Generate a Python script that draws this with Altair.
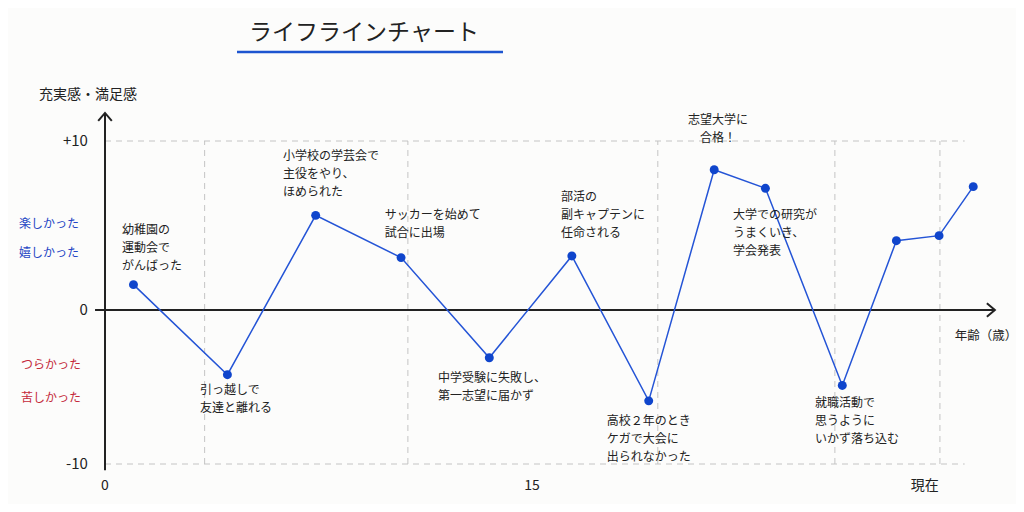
import altair as alt
import pandas as pd

FONT = "Noto Sans CJK JP"

# ---- life-line data (age, satisfaction score) ----
ages = [1.0, 4.3, 7.4, 10.4, 13.5, 16.4, 19.1, 21.4, 23.2, 25.9, 27.8, 29.3, 30.5]
scores = [1.5, -4.2, 5.6, 3.1, -3.1, 3.2, -5.9, 8.3, 7.2, -4.9, 4.1, 4.4, 7.3]

# ---- annotations (text, anchor age, anchor score) ----
ann_texts = [
    "幼稚園の\n運動会で\nがんばった",
    "小学校の学芸会で\n主役をやり、\nほめられた",
    "サッカーを始めて\n試合に出場",
    "引っ越しで\n友達と離れる",
    "中学受験に失敗し、\n第一志望に届かず",
    "部活の\n副キャプテンに\n任命される",
    "高校２年のとき\nケガで大会に\n出られなかった",
    "大学での研究が\nうまくいき、\n学会発表",
    "就職活動で\n思うように\nいかず落ち込む",
]
ann_x = [0.6, 6.25, 9.83, 3.34, 11.7, 16.02, 17.63, 22.06, 24.94]
ann_y = [5.03, 9.41, 5.92, -4.87, -4.09, 6.98, -6.88, 5.92, -5.71]

top_text = ["志望大学に\n合格！"]
top_x = [21.53]
top_y = [11.54]

# ---- grid / axes ----
grid_h_values = [10, -10]
grid_v_values = [3.5, 10.64, 19.42, 25.64, 29.33]
y_tick_values = [10, 0, -10]
y_tick_labels = ["+10", "0", "-10"]
x_tick_values = [0, 15, 28.8]
x_tick_labels = ["0", "15", "現在"]

pos_labels = ["楽しかった", "嬉しかった"]
pos_label_y = [5.09, 3.37]
neg_labels = ["つらかった", "苦しかった"]
neg_label_y = [-3.57, -5.71]

title_text = "ライフラインチャート"
y_title = "充実感・満足感"
x_title = "年齢（歳）"

xs = alt.Scale(domain=[0, 15], range=[97, 524], nice=False, zero=False)
ys = alt.Scale(domain=[-10, 0, 10], range=[456, 302, 133], nice=False, zero=False)


def X(f):
    return alt.X(f, type="quantitative", scale=xs, axis=None)


def Y(f):
    return alt.Y(f, type="quantitative", scale=ys, axis=None)


df = pd.DataFrame({"age": ages, "score": scores})

grid_h = alt.Chart(pd.DataFrame({"y": grid_h_values, "x1": [0] * 2, "x2": [30.2] * 2})).mark_rule(
    color="#c4c4c4", strokeWidth=1, strokeDash=[6, 5]
).encode(x=X("x1"), x2="x2", y=Y("y"))

grid_v = alt.Chart(pd.DataFrame({"x": grid_v_values, "y1": [-10] * 5, "y2": [10] * 5})).mark_rule(
    color="#c4c4c4", strokeWidth=1, strokeDash=[6, 5]
).encode(x=X("x"), y=Y("y1"), y2="y2")

y_axis = alt.Chart(pd.DataFrame({"x": [0], "y1": [-10.4], "y2": [11.66]})).mark_rule(
    color="#222", strokeWidth=2
).encode(x=X("x"), y=Y("y1"), y2="y2")

x_axis = alt.Chart(pd.DataFrame({"y": [0], "x1": [-0.35], "x2": [31.26]})).mark_rule(
    color="#222", strokeWidth=2
).encode(x=X("x1"), x2="x2", y=Y("y"))

arrow_up = alt.Chart(pd.DataFrame({"x": [0], "y": [11.66]})).mark_point(
    shape="M-0.85,1L0,0L0.85,1", size=256, filled=False, color="#222", strokeWidth=2, opacity=1
).encode(x=X("x"), y=Y("y"))

arrow_right = alt.Chart(pd.DataFrame({"x": [31.26], "y": [0]})).mark_point(
    shape="M-1,-0.85L0,0L-1,0.85", size=256, filled=False, color="#222", strokeWidth=2, opacity=1
).encode(x=X("x"), y=Y("y"))

line = alt.Chart(df).mark_line(color="#2454d6", strokeWidth=1.5).encode(x=X("age"), y=Y("score"))
points = alt.Chart(df).mark_circle(color="#0f45cc", size=80, opacity=1).encode(x=X("age"), y=Y("score"))

ann = alt.Chart(pd.DataFrame({"t": ann_texts, "x": ann_x, "y": ann_y})).mark_text(
    font=FONT, fontSize=12, color="#222", align="left", baseline="top", lineBreak="\n", lineHeight=18
).encode(x=X("x"), y=Y("y"), text="t:N")

ann_top = alt.Chart(pd.DataFrame({"t": top_text, "x": top_x, "y": top_y})).mark_text(
    font=FONT, fontSize=12, color="#222", align="center", baseline="top", lineBreak="\n", lineHeight=18
).encode(x=X("x"), y=Y("y"), text="t:N")

yticks = alt.Chart(pd.DataFrame({"v": y_tick_values, "t": y_tick_labels, "x": [-0.6] * 3})).mark_text(
    font=FONT, fontSize=15, color="#222", align="right", baseline="middle"
).encode(x=X("x"), y=Y("v"), text="t:N")

xticks = alt.Chart(pd.DataFrame({"v": x_tick_values, "t": x_tick_labels, "y": [-11.43] * 3})).mark_text(
    font=FONT, fontSize=14, color="#222", align="center", baseline="middle"
).encode(x=X("v"), y=Y("y"), text="t:N")

pos = alt.Chart(pd.DataFrame({"t": pos_labels, "y": pos_label_y, "x": [-1.97] * 2})).mark_text(
    font=FONT, fontSize=12, color="#2445c4", align="center", baseline="middle"
).encode(x=X("x"), y=Y("y"), text="t:N")

neg = alt.Chart(pd.DataFrame({"t": neg_labels, "y": neg_label_y, "x": [-1.9] * 2})).mark_text(
    font=FONT, fontSize=12, color="#c42a3a", align="center", baseline="middle"
).encode(x=X("x"), y=Y("y"), text="t:N")

ytitle = alt.Chart(pd.DataFrame({"t": [y_title], "x": [-0.6], "y": [12.72]})).mark_text(
    font=FONT, fontSize=14, color="#222", align="center", baseline="middle"
).encode(x=X("x"), y=Y("y"), text="t:N")

xtitle = alt.Chart(pd.DataFrame({"t": [x_title], "x": [30.95], "y": [-1.69]})).mark_text(
    font=FONT, fontSize=12.5, color="#222", align="center", baseline="middle"
).encode(x=X("x"), y=Y("y"), text="t:N")

title = alt.Chart(pd.DataFrame({"t": [title_text]})).mark_text(
    font=FONT, fontSize=23, color="#222", align="center", baseline="middle"
).encode(x=alt.value(356), y=alt.value(25), text="t:N")

underline = alt.Chart(pd.DataFrame({"a": [0]})).mark_rule(color="#1d55d0", strokeWidth=2.5).encode(
    x=alt.value(229), x2=alt.value(495), y=alt.value(44)
)

chart = alt.layer(
    grid_h, grid_v, x_axis, y_axis, arrow_up, arrow_right, line, points,
    ann, ann_top, yticks, xticks, pos, neg, ytitle, xtitle, title, underline
).properties(
    width=1008, height=496,
    autosize=alt.AutoSizeParams(type="none"),
    padding=0,
    background="#fcfcfb",
).configure_view(stroke=None)

chart.save("out.html", embed_options={"renderer": "svg", "actions": False})
